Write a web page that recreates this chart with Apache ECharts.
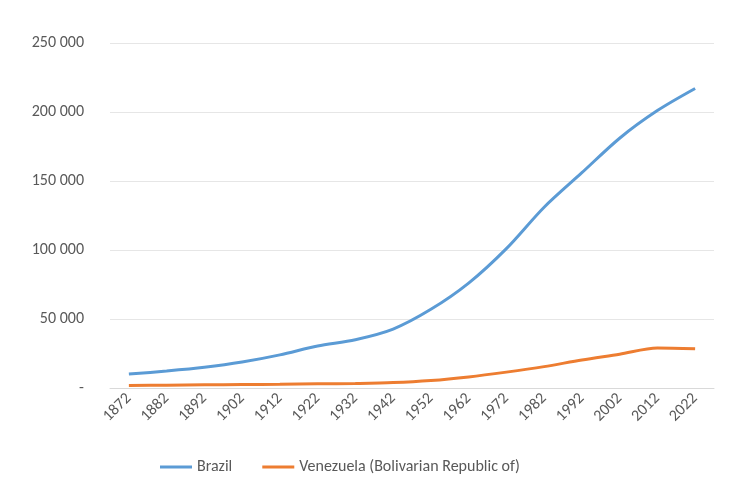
<!DOCTYPE html>
<html>
<head>
<meta charset="utf-8">
<script src="https://cdn.jsdelivr.net/npm/echarts@6/dist/echarts.min.js"></script>
<style>html,body{margin:0;padding:0;background:#fff}#chart{width:732px;height:488px}</style>
</head>
<body>
<div id="chart"></div>
<script>
const years = ['1872', '1882', '1892', '1902', '1912', '1922', '1932', '1942', '1952', '1962', '1972', '1982', '1992', '2002', '2012', '2022'];
const brazil = [10100, 12300, 15000, 18800, 24000, 30400, 35000, 42700, 57000, 76000, 101000, 131000, 156000, 181000, 201000, 217000];
const venezuela = [1800, 2000, 2300, 2500, 2700, 3000, 3300, 3900, 5400, 8000, 11500, 15500, 20300, 24500, 29000, 28500];

const chart = echarts.init(document.getElementById('chart'));
const font = 'Calibri, Carlito, "Open Sans", sans-serif';
chart.setOption({
  animation: false,
  textStyle: { fontFamily: font },
  grid: { left: 110, right: 18, top: 43, bottom: 100 },
  legend: {
    bottom: 8,
    left: 155,
    itemGap: 30,
    icon: 'rect',
    itemWidth: 32,
    itemHeight: 3,
    textStyle: { color: '#595959', fontSize: 16, fontFamily: font }
  },
  xAxis: {
    type: 'category',
    data: years,
    boundaryGap: true,
    axisLine: { lineStyle: { color: '#d9d9d9' } },
    axisTick: { show: false },
    axisLabel: { rotate: 45, color: '#595959', fontSize: 16, interval: 0 }
  },
  yAxis: {
    type: 'value',
    min: 0,
    max: 250000,
    interval: 50000,
    axisLine: { show: false },
    axisTick: { show: false },
    splitLine: { lineStyle: { color: '#e6e6e6' } },
    axisLabel: {
      color: '#595959',
      fontSize: 16,
      margin: 26,
      formatter: v => v === 0 ? '-' : String(v).replace(/\B(?=(\d{3})+(?!\d))/g, ' ')
    }
  },
  series: [
    { name: 'Brazil', type: 'line', data: brazil, symbol: 'none', smooth: 0.3, lineStyle: { color: '#5b9bd5', width: 3 }, itemStyle: { color: '#5b9bd5' } },
    { name: 'Venezuela (Bolivarian Republic of)', type: 'line', data: venezuela, symbol: 'none', smooth: 0.3, lineStyle: { color: '#ed7d31', width: 3 }, itemStyle: { color: '#ed7d31' } }
  ]
});
</script>
</body>
</html>
